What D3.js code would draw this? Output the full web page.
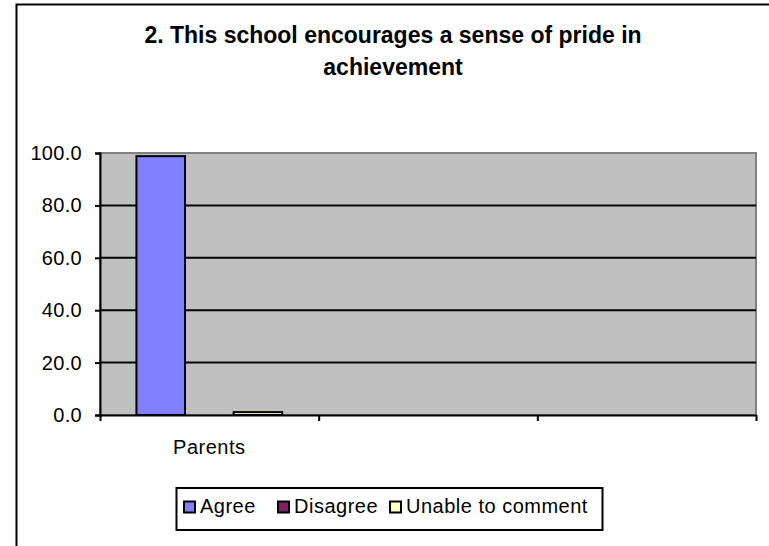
<!DOCTYPE html>
<html>
<head>
<meta charset="utf-8">
<script src="https://cdn.jsdelivr.net/npm/d3@7"></script>
<style>
  body { margin: 0; background: #fff; }
  svg { display: block; font-family: Arial, "Liberation Sans", sans-serif; }
</style>
</head>
<body>
<script>
// data
var titleLines = ["2. This school encourages a sense of pride in", "achievement"];
var categories = ["Parents", "", ""];
var seriesNames = ["Agree", "Disagree", "Unable to comment"];
var seriesColors = ["#8080ff", "#802060", "#ffffc0"];
var agreeValues = [98.8, null, null];
var disagreeValues = [0, null, null];
var unableValues = [1.1, null, null];
var yTicks = [0, 20, 40, 60, 80, 100];

var width = 769, height = 546;
var plot = {left: 100, top: 153, right: 756, bottom: 415};

var svg = d3.select("body").append("svg")
    .attr("width", width)
    .attr("height", height);

// chart frame (only top and left visible)
svg.append("rect")
    .attr("x", 16.5).attr("y", 4.5)
    .attr("width", 800).attr("height", 600)
    .attr("fill", "#fff")
    .attr("stroke", "#000")
    .attr("stroke-width", 2);

// title
svg.append("text")
    .attr("x", 393).attr("y", 43)
    .attr("text-anchor", "middle")
    .style("font-weight", "bold")
    .style("font-size", "23px")
    .selectAll("tspan")
    .data(titleLines)
    .enter().append("tspan")
    .attr("x", 393)
    .attr("dy", function (d, i) { return i == 0 ? 0 : 32; })
    .text(function (d) { return d; });

// scales
var xScale = d3.scaleBand()
    .domain(d3.range(categories.length))
    .range([plot.left, plot.right]);

var yScale = d3.scaleLinear()
    .domain([0, 100])
    .range([plot.bottom, plot.top]);

// plot area
svg.append("rect")
    .attr("x", plot.left).attr("y", plot.top)
    .attr("width", plot.right - plot.left)
    .attr("height", plot.bottom - plot.top)
    .attr("fill", "#c0c0c0")
    .attr("stroke", "#808080")
    .attr("stroke-width", 2);

// gridlines
svg.append("g")
    .selectAll("line")
    .data(yTicks.filter(function (d) { return d > 0 && d < 100; }))
    .enter().append("line")
    .attr("x1", plot.left).attr("x2", plot.right)
    .attr("y1", function (d) { return yScale(d); })
    .attr("y2", function (d) { return yScale(d); })
    .attr("stroke", "#000")
    .attr("stroke-width", 2);

// bars
var series = [agreeValues, disagreeValues, unableValues];
var inner = d3.scaleBand()
    .domain(d3.range(series.length))
    .range([0, xScale.bandwidth()])
    .paddingInner(0)
    .paddingOuter(0.75);

series.forEach(function (vals, s) {
    svg.append("g")
        .selectAll("rect")
        .data(vals.map(function (v, i) { return {i: i, v: v}; }).filter(function (d) { return d.v != null && d.v > 0; }))
        .enter().append("rect")
        .attr("x", function (d) { return xScale(d.i) + inner(s); })
        .attr("y", function (d) { return yScale(d.v); })
        .attr("width", inner.bandwidth())
        .attr("height", function (d) { return yScale(0) - yScale(d.v); })
        .attr("fill", seriesColors[s])
        .attr("stroke", "#000")
        .attr("stroke-width", 2);
});

// y axis
var yAxis = d3.axisLeft(yScale)
    .tickValues(yTicks)
    .tickSize(5)
    .tickPadding(13)
    .tickFormat(d3.format(".1f"));

var gy = svg.append("g")
    .attr("transform", "translate(" + plot.left + ",0)")
    .call(yAxis);
gy.select(".domain").attr("stroke", "#000").attr("stroke-width", 2);
gy.selectAll(".tick line").attr("stroke", "#000").attr("stroke-width", 2);
gy.selectAll("text")
    .style("font-size", "20px")
    .style("letter-spacing", "0.3px")
    .attr("fill", "#000");

// x axis
var xEdges = d3.scaleLinear()
    .domain([0, categories.length])
    .range([plot.left, plot.right]);
var xAxis = d3.axisBottom(xEdges)
    .tickValues(d3.range(categories.length + 1))
    .tickSize(6)
    .tickSizeOuter(0)
    .tickFormat("");

var gx = svg.append("g")
    .attr("transform", "translate(0," + plot.bottom + ")")
    .call(xAxis);
gx.select(".domain").attr("stroke", "#000").attr("stroke-width", 2);
gx.selectAll(".tick line").attr("stroke", "#000").attr("stroke-width", 2);

svg.append("g")
    .selectAll("text")
    .data(categories)
    .enter().append("text")
    .attr("x", function (d, i) { return xScale(i) + xScale.bandwidth() / 2; })
    .attr("y", plot.bottom + 39)
    .attr("text-anchor", "middle")
    .style("font-size", "20px")
    .style("letter-spacing", "0.5px")
    .text(function (d) { return d; });

// legend
var legend = svg.append("g");
legend.append("rect")
    .attr("x", 176.5).attr("y", 488)
    .attr("width", 426).attr("height", 42)
    .attr("fill", "#fff")
    .attr("stroke", "#000")
    .attr("stroke-width", 2);

var legendX = [184, 278, 390];
var items = legend.selectAll(".item")
    .data(seriesNames)
    .enter().append("g")
    .attr("class", "item")
    .attr("transform", function (d, i) { return "translate(" + legendX[i] + ",501.5)"; });

items.append("rect")
    .attr("width", 11).attr("height", 11)
    .attr("fill", function (d, i) { return seriesColors[i]; })
    .attr("stroke", "#000")
    .attr("stroke-width", 2);

items.append("text")
    .attr("x", 16)
    .attr("y", 11.5)
    .style("font-size", "20px")
    .style("letter-spacing", "0.5px")
    .text(function (d) { return d; });
</script>
</body>
</html>
